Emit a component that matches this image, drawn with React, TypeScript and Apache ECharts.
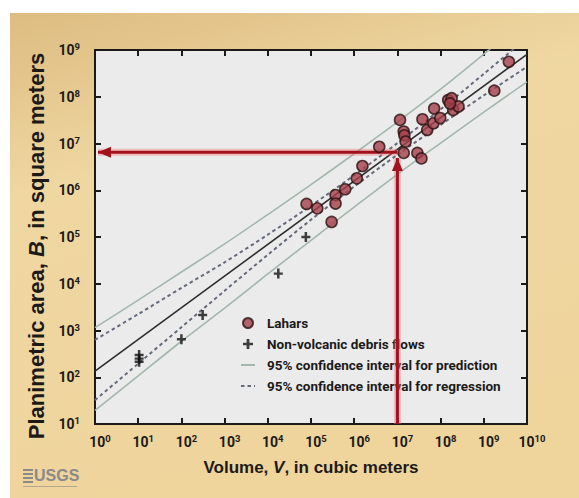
import { useEffect, useRef } from "react";
import * as echarts from "echarts";

// ---- Data ----
const laharVolume = [7.9e4, 1.4e5, 3.0e5, 3.7e5, 3.7e5, 6.2e5, 1.15e6, 1.55e6, 3.8e6, 1.15e7, 1.4e7, 1.45e7, 1.55e7, 1.4e7, 2.9e7, 3.6e7, 3.8e7, 4.9e7, 6.8e7, 7.1e7, 9.8e7, 1.5e8, 1.8e8, 1.95e8, 2.6e8, 1.65e8, 1.75e9, 3.8e9];
const laharArea = [5.1e5, 4.1e5, 2.1e5, 7.9e5, 5.2e5, 1.05e6, 1.8e6, 3.3e6, 8.5e6, 3.2e7, 1.8e7, 1.5e7, 1.1e7, 6.3e6, 6.3e6, 4.8e6, 3.3e7, 1.95e7, 2.7e7, 5.6e7, 3.5e7, 8.5e7, 9.3e7, 5.2e7, 6.2e7, 7.2e7, 1.35e8, 5.6e8];

const debrisVolume = [10.5, 10.5, 10.5, 100, 310, 1.75e4, 7.6e4];
const debrisArea = [300, 250, 215, 650, 2150, 1.65e4, 1.0e5];

const regressionVolume = [1, 1e10];
const regressionArea = [135, 8.1e8];

const bandVolume = [1, 1e1, 1e2, 1e3, 1e4, 1e5, 1e6, 1e7, 1e8, 1e9, 1e10];
const predictionUpper = [1150, 4470, 1.78e4, 7.1e4, 3.02e5, 1.32e6, 6.03e6, 2.88e7, 1.45e8, 8.13e8, 4.68e9];
const predictionLower = [19.5, 107, 589, 3020, 1.62e4, 8.51e4, 4.37e5, 2.19e6, 1.02e7, 4.68e7, 2.09e8];
const regressionUpper = [631, 2239, 8128, 2.88e4, 1.12e5, 4.68e5, 2.09e6, 1.02e7, 5.37e7, 3.09e8, 1.82e9];
const regressionLower = [32.4, 195, 1175, 7079, 4.17e4, 2.34e5, 1.2e6, 5.75e6, 2.51e7, 1.07e8, 4.37e8];

// red read-off arrows
const arrowVolume = 1e7;
const arrowArea = 6.5e6;
const arrowTipArea = 4.9e6;
const arrowTipVolume = 1.17;
const axisBottomArea = 10;

const legendNames = [
  "Lahars",
  "Non-volcanic debris flows",
  "95% confidence interval for prediction",
  "95% confidence interval for regression",
];

const xAxisTitle = ["Volume, ", "V", ", in cubic meters"];
const yAxisTitle = ["Planimetric area, ", "B", ", in square meters"];

const FONT = 'Roboto, "Liberation Sans", Arial, sans-serif';
const TITLE_FONT = '"Liberation Sans", Arial, Roboto, sans-serif';
const INK = "#1c1a18";
const RED = "#a3111d";

const pairs = (xs: number[], ys: number[]) => xs.map((x, i) => [x, ys[i]]);

const expLabel = (value: number) => {
  const e = Math.round(Math.log10(value));
  return `{b|10}{s|${e}}`;
};

const labelRich = {
  b: { fontSize: 14, fontWeight: "bold", fontFamily: FONT, color: INK, lineHeight: 17 },
  s: { fontSize: 9.5, fontWeight: "bold", fontFamily: FONT, color: INK, verticalAlign: "top", lineHeight: 17, padding: [0, 0, 6, 0] },
};

const titleRich = (size: number) => ({
  n: { fontSize: size, fontWeight: "bold", fontFamily: TITLE_FONT, color: INK },
  i: { fontSize: size, fontWeight: "bold", fontStyle: "italic", fontFamily: TITLE_FONT, color: INK },
});

const plusPath = "path://M3.6,0H6.4V3.8H10V6.2H6.4V10H3.6V6.2H0V3.8H3.6Z";

export default function App() {
  const ref = useRef<HTMLDivElement>(null);

  useEffect(() => {
    if (!ref.current) return;
    const chart = echarts.init(ref.current, undefined, { renderer: "svg" });

    const axisLine = { show: true, lineStyle: { color: INK, width: 2 } };
    const axisTick = { show: true, inside: true, length: 6, lineStyle: { color: INK, width: 2 } };

    const bandLine = (name: string, values: number[], style: any) => ({
      name,
      type: "line",
      data: pairs(bandVolume, values),
      smooth: 0.3,
      symbol: "none",
      lineStyle: style,
      itemStyle: { color: style.color },
      z: 2,
    });
    const predStyle = { color: "#a4b7ac", width: 1.6 };
    const regStyle = { color: "#666a7b", width: 2, type: [3.5, 3] };

    const option: any = {
      animation: false,
      backgroundColor: "#ffffff",
      graphic: [
        {
          type: "rect",
          z: -100,
          shape: { x: 10, y: 13, width: 569, height: 485 },
          style: {
            fill: new echarts.graphic.LinearGradient(0, 0, 0.3, 1, [
              { offset: 0, color: "#ddbc80" },
              { offset: 0.35, color: "#efd7a2" },
              { offset: 1, color: "#efd49c" },
            ]),
          },
          silent: true,
        },
        {
          type: "group",
          left: 23,
          top: 467,
          children: [
            { type: "rect", shape: { x: 0, y: 1, width: 10, height: 2 }, style: { fill: "#8a8a8a" } },
            { type: "rect", shape: { x: 0, y: 5, width: 10, height: 2 }, style: { fill: "#8a8a8a" } },
            { type: "rect", shape: { x: 0, y: 9, width: 10, height: 2 }, style: { fill: "#8a8a8a" } },
            { type: "rect", shape: { x: 0, y: 13, width: 10, height: 2 }, style: { fill: "#8a8a8a" } },
            {
              type: "text",
              x: 11,
              y: -1,
              style: { text: "USGS", fontSize: 16, fontWeight: "bold", fontFamily: '"Liberation Sans Narrow", "Liberation Sans", Arial, sans-serif', fill: "#8a8a8a" },
            },
            { type: "rect", shape: { x: 0, y: 18, width: 54, height: 1 }, style: { fill: "#b3a88e" } },
          ],
        },
      ],
      grid: {
        left: 95,
        right: 52,
        top: 50,
        bottom: 74,
        show: true,
        backgroundColor: "#ebebec",
        borderColor: INK,
        borderWidth: 2,
      },
      legend: {
        orient: "vertical",
        left: 235,
        top: 311,
        itemWidth: 14,
        itemHeight: 10,
        itemGap: 7,
        data: [
          { name: legendNames[0] },
          { name: legendNames[1] },
          { name: legendNames[2], itemStyle: { opacity: 0 } },
          { name: legendNames[3], itemStyle: { opacity: 0 } },
        ],
        textStyle: { fontSize: 13.5, fontWeight: "bold", fontFamily: FONT, color: INK, padding: [0, 0, 0, 7] },
      },
      xAxis: [
        {
          type: "log",
          logBase: 10,
          min: 1,
          max: 1e10,
          interval: 1,
          position: "bottom",
          axisLine,
          axisTick,
          splitLine: { show: false },
          axisLabel: { margin: 9, formatter: expLabel, rich: labelRich, padding: [0, 0, 0, 10] },
          name: `{n|${xAxisTitle[0]}}{i|${xAxisTitle[1]}}{n|${xAxisTitle[2]}}`,
          nameLocation: "middle",
          nameGap: 35,
          nameTextStyle: { rich: titleRich(17) },
        },
        {
          type: "log",
          logBase: 10,
          min: 1,
          max: 1e10,
          interval: 1,
          position: "top",
          axisLine,
          axisTick,
          splitLine: { show: false },
          axisLabel: { show: false },
        },
      ],
      yAxis: [
        {
          type: "log",
          logBase: 10,
          min: 10,
          max: 1e9,
          interval: 1,
          position: "left",
          axisLine,
          axisTick,
          splitLine: { show: false },
          axisLabel: { margin: 15, formatter: expLabel, rich: labelRich },
          name: `{n|${yAxisTitle[0]}}{i|${yAxisTitle[1]}}{n|${yAxisTitle[2]}}`,
          nameLocation: "middle",
          nameGap: 48,
          nameTextStyle: { rich: titleRich(22), padding: [0, 18, 0, 0] },
        },
        {
          type: "log",
          logBase: 10,
          min: 10,
          max: 1e9,
          interval: 1,
          position: "right",
          axisLine,
          axisTick,
          splitLine: { show: false },
          axisLabel: { show: false },
        },
      ],
      series: [
        bandLine(legendNames[2], predictionUpper, predStyle),
        bandLine(legendNames[2], predictionLower, predStyle),
        bandLine(legendNames[3], regressionUpper, regStyle),
        bandLine(legendNames[3], regressionLower, regStyle),
        {
          name: "regression",
          type: "line",
          data: pairs(regressionVolume, regressionArea),
          symbol: "none",
          lineStyle: { color: "#2e2e2e", width: 1.6 },
          z: 3,
        },
        {
          name: "arrowGlowV",
          type: "line",
          z: 4,
          symbol: "none",
          lineStyle: { color: "rgba(236,120,120,0.4)", width: 7 },
          data: [[arrowVolume, axisBottomArea], [arrowVolume, arrowTipArea]],
        },
        {
          name: "arrowGlowH",
          type: "line",
          z: 4,
          symbol: "none",
          lineStyle: { color: "rgba(236,120,120,0.4)", width: 7 },
          data: [[arrowVolume, arrowArea], [arrowTipVolume, arrowArea]],
        },
        {
          name: "arrowVertical",
          type: "line",
          z: 5,
          lineStyle: { color: RED, width: 3 },
          itemStyle: { color: RED },
          data: [
            { value: [arrowVolume, axisBottomArea], symbol: "none" },
            { value: [arrowVolume, arrowTipArea], symbol: "triangle", symbolSize: [11, 13], symbolOffset: [0, 6.5] },
          ],
        },
        {
          name: "arrowHorizontal",
          type: "line",
          z: 5,
          lineStyle: { color: RED, width: 3 },
          itemStyle: { color: RED },
          data: [
            { value: [arrowVolume, arrowArea], symbol: "none" },
            { value: [arrowTipVolume, arrowArea], symbol: "triangle", symbolSize: [11, 13], symbolRotate: 90, symbolOffset: [6.5, 0] },
          ],
        },
        {
          name: legendNames[1],
          type: "scatter",
          data: pairs(debrisVolume, debrisArea),
          symbol: plusPath,
          symbolSize: [9, 10],
          itemStyle: { color: "#111111" },
          z: 6,
        },
        {
          name: legendNames[0],
          type: "scatter",
          data: pairs(laharVolume, laharArea),
          symbol: "circle",
          symbolSize: 11,
          itemStyle: { color: "#a5404b", borderColor: "#2a1212", borderWidth: 1.6 },
          z: 7,
        },
      ],
    };

    chart.setOption(option);
    return () => chart.dispose();
  }, []);

  return (
    <div
      ref={ref}
      style={{ position: "absolute", left: 0, top: 0, width: 579, height: 498 }}
    />
  );
}
